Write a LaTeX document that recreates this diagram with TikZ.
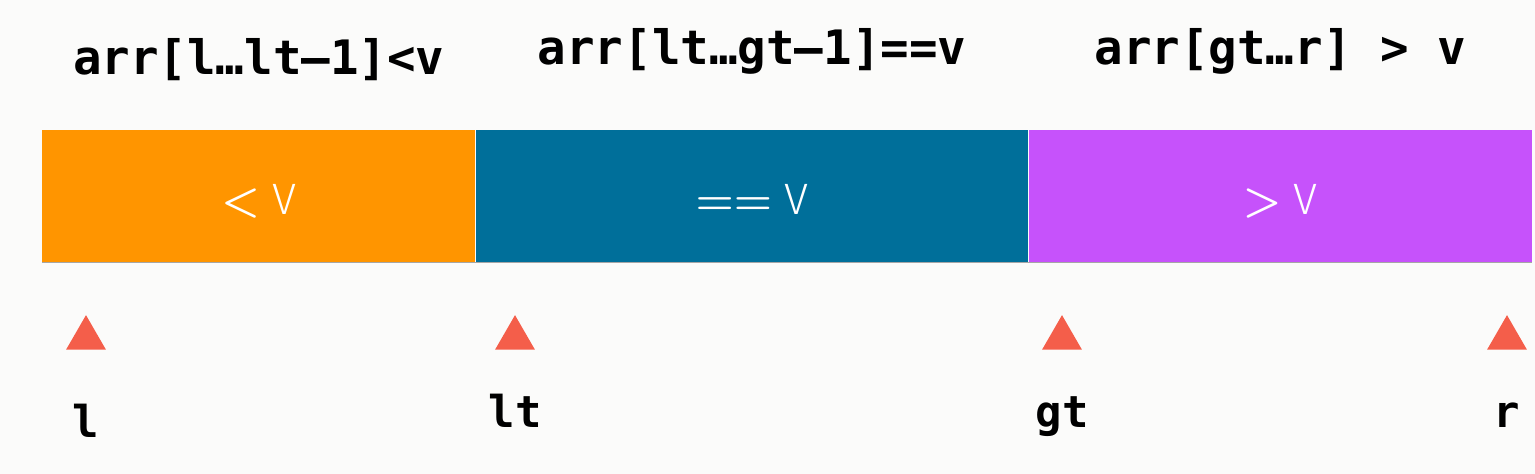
\documentclass[tikz,border=0pt]{standalone}
\usepackage{fontspec}
\setmonofont{DejaVu Sans Mono}
\newfontfamily\barfont{Fira Sans Light}
\usetikzlibrary{positioning,shapes.geometric}
\definecolor{lessorange}{HTML}{FF9500}
\definecolor{eqblue}{HTML}{006F9A}
\definecolor{gtpurple}{HTML}{C652FB}
\definecolor{ptrred}{HTML}{F45E4A}
\definecolor{paper}{HTML}{FBFBFA}

\begin{document}
\begin{tikzpicture}[
    seg/.style={minimum height=2.64cm, inner sep=0pt, text=white, text height=21.6pt, text depth=0pt,
      font=\barfont\fontsize{25}{30}\selectfont\boldmath},
    ptr/.style={regular polygon, regular polygon sides=3, minimum size=0.92cm, inner sep=0pt,
      fill=ptrred, anchor=south},
    idx/.style={font=\ttfamily\bfseries\fontsize{25}{30}\selectfont, inner sep=0pt, anchor=base},
    spanlabel/.style={font=\ttfamily\bfseries\fontsize{27}{32}\selectfont, inner sep=0pt, anchor=base}]
    \fill[paper] (0,0) rectangle (30.7,9.48);
    % the three parts of the array
    \node[seg, fill=lessorange, minimum width=8.66cm, anchor=west] (less) at (0.84,5.56) {$<$ V};
    \node[seg, fill=eqblue, minimum width=11.04cm, right=0pt of less] (eq) {$==$ V};
    \node[seg, fill=gtpurple, minimum width=10.06cm, right=0pt of eq] (more) {$>$ V};
    \draw[black!35, line width=0.5pt] (less.south west) -- (more.south east);
    % ranges above
    \node[spanlabel] (rless) at (less |- 0,7.98) {arr[l…lt–1]<v};
    \node[spanlabel] (req) at (eq |- 0,8.18) {arr[lt…gt–1]==v};
    \node[spanlabel] (rmore) at (more |- 0,8.18) {arr[gt…r] > v};
    % pointers below
    \node[ptr] (pl) at (1.72,2.48) {};
    \node[ptr] (plt) at (10.3,2.48) {};
    \node[ptr] (pgt) at (21.24,2.48) {};
    \node[ptr] (pr) at (30.14,2.48) {};
    \node[idx] (nl) at (pl |- 0,0.72) {l};
    \node[idx] (nlt) at (plt |- 0,0.92) {lt};
    \node[idx] (ngt) at (pgt |- 0,0.92) {gt};
    \node[idx] (nr) at (pr |- 0,0.92) {r};
  \end{tikzpicture}
\end{document}
